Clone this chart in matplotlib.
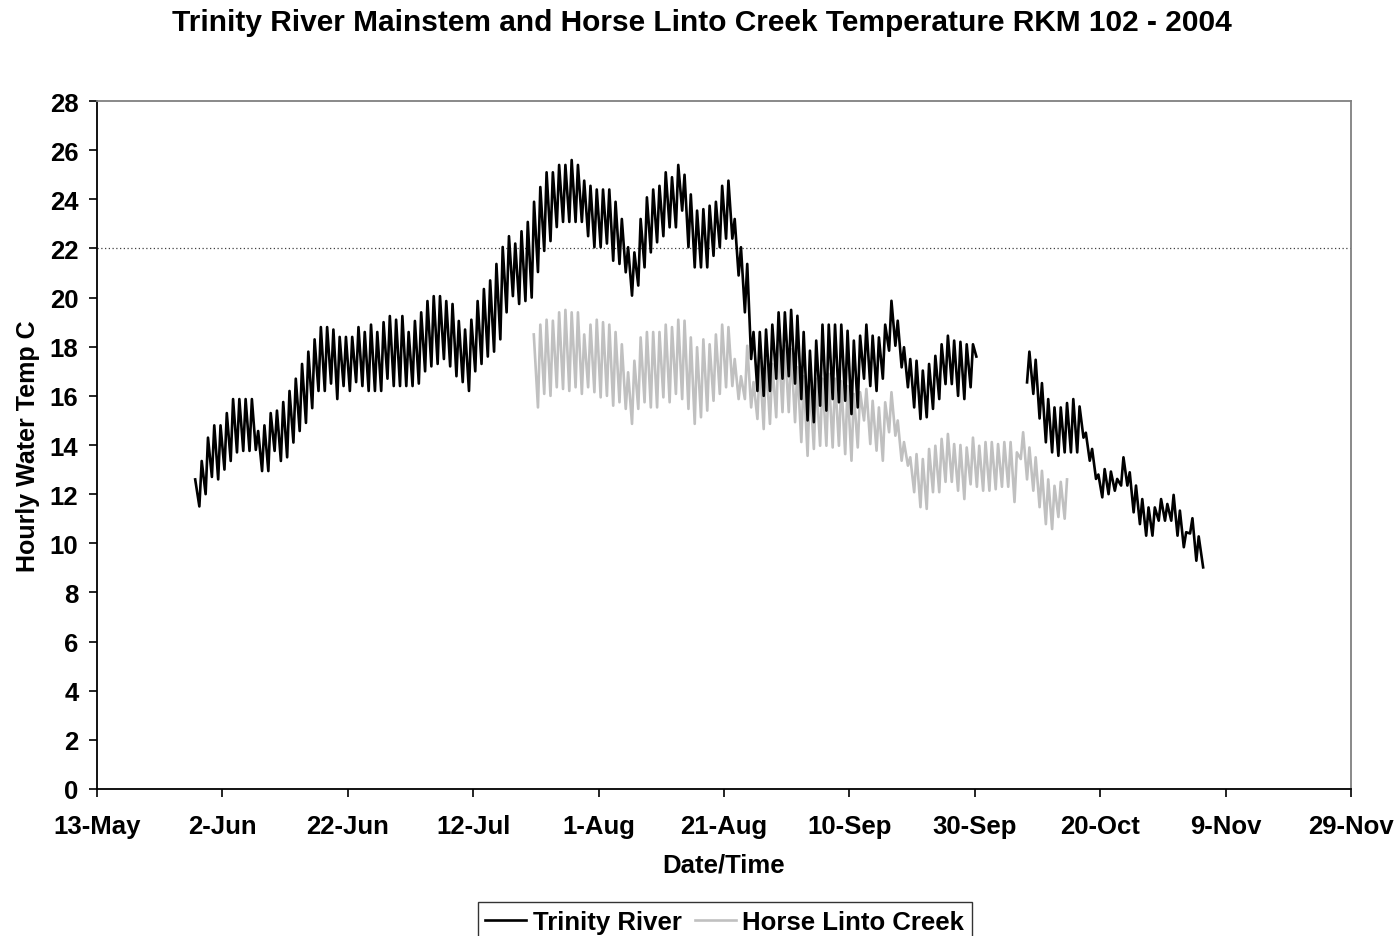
import numpy as np
import matplotlib.pyplot as plt
import matplotlib.dates as mdates
from matplotlib.ticker import FuncFormatter

plt.rcParams['font.family'] = ['Liberation Sans', 'DejaVu Sans']
plt.rcParams['font.weight'] = 'bold'

# daily (min, max) water temperature, deg C
trinity_start1 = "2004-05-29"
trinity_first1 = 12.6
trinity_min1 = [11.5, 12.0, 12.7, 12.6, 13.0, 13.35, 13.7, 13.76, 13.76, 13.8,
                12.94, 12.94, 13.76, 13.35, 13.5, 14.1, 14.57, 14.9, 15.5, 16.2,
                16.2, 16.5, 15.87, 16.4, 16.2, 16.56, 16.4, 16.2, 16.2, 16.2,
                16.7, 16.4, 16.4, 16.4, 16.4, 16.5, 17.0, 17.2, 17.3, 17.5,
                17.2, 16.8, 16.56, 16.2, 17.0, 17.3, 17.6, 17.8, 18.3, 19.4,
                20.06, 19.74, 19.86, 20.0, 21.04, 21.9, 22.3, 22.87, 23.08, 23.08,
                23.08, 23.08, 22.5, 22.05, 22.05, 22.2, 21.5, 21.37, 21.03, 20.08,
                20.49, 21.23, 21.84, 22.25, 22.5, 22.86, 22.86, 23.54, 22.05, 21.23,
                21.23, 21.23, 21.7, 22.05, 22.4, 22.4, 20.9, 19.4,
                17.5, 16.2, 16.0, 16.2, 16.7, 16.7, 16.8, 16.5, 15.87, 15.0,
                14.93, 15.6, 15.4, 15.87, 15.74, 15.8, 15.26, 15.53, 16.7, 16.4,
                16.2, 16.7, 17.84, 18.04, 17.16, 16.35, 15.53, 15.06, 15.13, 15.47,
                15.87, 16.48, 16.48, 16.0, 15.87, 16.35]
trinity_max1 = [13.35, 14.3, 14.8, 14.8, 15.3, 15.87, 15.87, 15.87, 15.87, 14.57,
                14.8, 15.3, 15.4, 15.75, 16.2, 16.7, 17.3, 17.8, 18.3, 18.8,
                18.8, 18.7, 18.4, 18.4, 18.4, 18.8, 18.6, 18.9, 18.6, 19.0,
                19.25, 19.1, 19.25, 18.6, 19.05, 19.4, 19.86, 20.06, 20.06, 19.86,
                19.74, 19.05, 18.7, 19.1, 19.86, 20.35, 20.7, 21.37, 22.06, 22.5,
                22.2, 22.7, 23.08, 23.9, 24.5, 25.1, 25.1, 25.4, 25.4, 25.6,
                25.4, 24.76, 24.55, 24.4, 24.4, 24.4, 23.9, 23.2, 22.05, 21.84,
                23.2, 24.08, 24.4, 24.55, 25.1, 24.9, 25.4, 25.0, 24.2, 23.54,
                23.6, 23.74, 23.9, 24.55, 24.76, 23.2, 22.05, 21.37,
                18.6, 18.6, 18.7, 18.9, 19.4, 19.4, 19.5, 19.26, 18.6, 17.84,
                18.25, 18.9, 18.9, 18.9, 18.9, 18.65, 18.25, 18.45, 18.9, 18.45,
                18.38, 18.9, 19.87, 19.06, 17.98, 17.5, 17.43, 17.03, 17.3, 17.63,
                18.1, 18.45, 18.25, 18.2, 18.1, 18.1]
trinity_last1 = 17.6

trinity_start2 = "2004-10-08"
trinity_min2 = [16.55, 16.08, 15.08, 14.11, 13.7, 13.56, 13.7, 13.7, 13.7, 14.3,
                13.36, 12.62, 11.87, 12.0, 12.14, 12.35, 12.35, 11.26, 10.78, 10.31,
                10.31, 10.92, 10.92, 10.92, 10.31, 9.84, 10.4, 9.29]
trinity_max2 = [17.8, 17.47, 16.52, 15.87, 15.53, 15.53, 15.71, 15.87, 15.57, 14.5,
                13.84, 12.8, 13.02, 12.92, 12.62, 13.5, 12.89, 12.35, 11.8, 11.46,
                11.46, 11.8, 11.6, 11.97, 11.33, 10.45, 11.02, 10.28]
trinity_last2 = 9.02

horse_start = "2004-07-22"
horse_first = 18.5
horse_min = [15.53, 16.08, 16.0, 16.35, 16.28, 16.2, 16.35, 16.08, 16.35, 16.15,
             15.94, 16.0, 15.6, 15.74, 15.47, 14.86, 15.47, 15.74, 15.53, 15.53,
             15.94, 15.74, 16.08, 15.87, 15.47, 14.86, 15.13, 15.4, 15.8, 16.08,
             16.35, 16.4, 15.87, 15.87,
             15.53, 15.06, 14.65, 14.86, 15.13, 15.34, 15.34, 14.93, 14.12, 13.56,
             13.84, 13.97, 13.97, 13.9, 13.97, 13.63, 13.36, 13.9, 15.0, 14.04,
             13.77, 13.36, 14.52, 14.38, 13.36, 13.16, 12.08, 11.47, 11.4, 12.08,
             12.08, 12.5, 12.5, 12.14, 11.8, 12.4, 12.3, 12.14, 12.14, 12.2,
             12.3, 12.3, 11.68, 13.43, 12.6, 12.14, 11.47, 10.78, 10.58, 11.07,
             11.0]
horse_max = [18.9, 19.1, 19.06, 19.4, 19.5, 19.4, 19.4, 18.5, 18.9, 19.1,
             19.0, 18.9, 18.6, 18.1, 16.96, 17.43, 18.38, 18.6, 18.6, 18.6,
             18.9, 18.8, 19.1, 19.06, 18.38, 17.98, 18.3, 18.1, 18.5, 18.9,
             18.8, 17.5, 16.8, 18.04,
             16.56, 17.4, 17.5, 17.3, 18.25, 18.04, 17.9, 17.17, 16.8, 16.56,
             16.7, 16.7, 16.9, 16.7, 16.6, 16.4, 16.08, 16.15, 16.28, 15.8,
             15.53, 15.74, 16.15, 15.0, 14.12, 13.5, 13.63, 13.43, 13.84, 13.97,
             14.25, 14.45, 14.04, 14.0, 13.9, 14.3, 13.97, 14.12, 14.12, 14.04,
             14.12, 14.12, 13.7, 14.52, 13.9, 13.5, 12.95, 12.6, 12.34, 12.5,
             12.6]

threshold = 22


def daily_series(start, mins, maxs, first=None, last=None, last_hours=24):
    t0 = np.datetime64(start + "T00:00")
    times, vals = [], []
    if first is not None:
        times.append(t0 - np.timedelta64(8, "h"))
        vals.append(first)
    for i, (lo, hi) in enumerate(zip(mins, maxs)):
        day = t0 + np.timedelta64(i, "D")
        times += [day + np.timedelta64(8, "h"), day + np.timedelta64(17, "h")]
        vals += [lo, hi]
    if last is not None:
        times.append(t0 + np.timedelta64(len(mins) - 1, "D") + np.timedelta64(last_hours, "h"))
        vals.append(last)
    return np.array(times, dtype="datetime64[m]").astype("O"), vals


t1, v1 = daily_series(trinity_start1, trinity_min1, trinity_max1, trinity_first1, trinity_last1, 30)
t2, v2 = daily_series(trinity_start2, trinity_min2, trinity_max2, None, trinity_last2, 34)
th, vh = daily_series(horse_start, horse_min, horse_max, horse_first)

fig = plt.figure(figsize=(13.99, 9.37), dpi=100)
ax = fig.add_axes([0.0693, 0.1569, 0.8964, 0.7342])

ax.axhline(threshold, color="#404040", linestyle=(0, (1, 2)), linewidth=0.9, zorder=1)
line_hl, = ax.plot(th, vh, color="#c0c0c0", linewidth=1.9, zorder=2)
line_tr, = ax.plot(t1, v1, color="black", linewidth=1.9, zorder=3)
ax.plot(t2, v2, color="black", linewidth=1.9, zorder=3)

ax.set_xlim(np.datetime64("2004-05-13").astype("O"), np.datetime64("2004-11-29").astype("O"))
ticks = np.arange(np.datetime64("2004-05-13"), np.datetime64("2004-11-30"), 20)
ax.set_xticks([mdates.date2num(t.astype("O")) for t in ticks])
ax.xaxis.set_major_formatter(FuncFormatter(
    lambda v, p: f"{mdates.num2date(v).day}-{mdates.num2date(v).strftime('%b')}"))
ax.set_ylim(0, 28)
ax.set_yticks(range(0, 29, 2))

for s in ("top", "right"):
    ax.spines[s].set_color("#808080")
for s in ("left", "bottom"):
    ax.spines[s].set_color("black")
for s in ax.spines.values():
    s.set_linewidth(1.3)
ax.tick_params(direction="out", length=5.8, width=1.2, labelsize=18.5)
ax.tick_params(axis="x", pad=12)
ax.tick_params(axis="y", pad=7.5)

ax.set_xlabel("Date/Time", fontsize=18.5, fontweight="bold", labelpad=11)
ax.set_ylabel("Hourly Water Temp C", fontsize=18, fontweight="bold", labelpad=7)
fig.text(0.502, 1 - 23 / 937,
         "Trinity River Mainstem and Horse Linto Creek Temperature RKM 102 - 2004",
         fontsize=21.5, fontweight="bold", ha="center", va="center")

leg = fig.legend([line_tr, line_hl], ["Trinity River", "Horse Linto Creek"], loc="upper center",
                 bbox_to_anchor=(0.518, 0.036), ncol=2, fontsize=18.5, frameon=True,
                 fancybox=False, edgecolor="black", handlelength=1.6, handletextpad=0.25,
                 columnspacing=0.5, borderpad=0.3, borderaxespad=0)
leg.get_frame().set_linewidth(1.0)

fig.savefig("out.png", dpi=100)
